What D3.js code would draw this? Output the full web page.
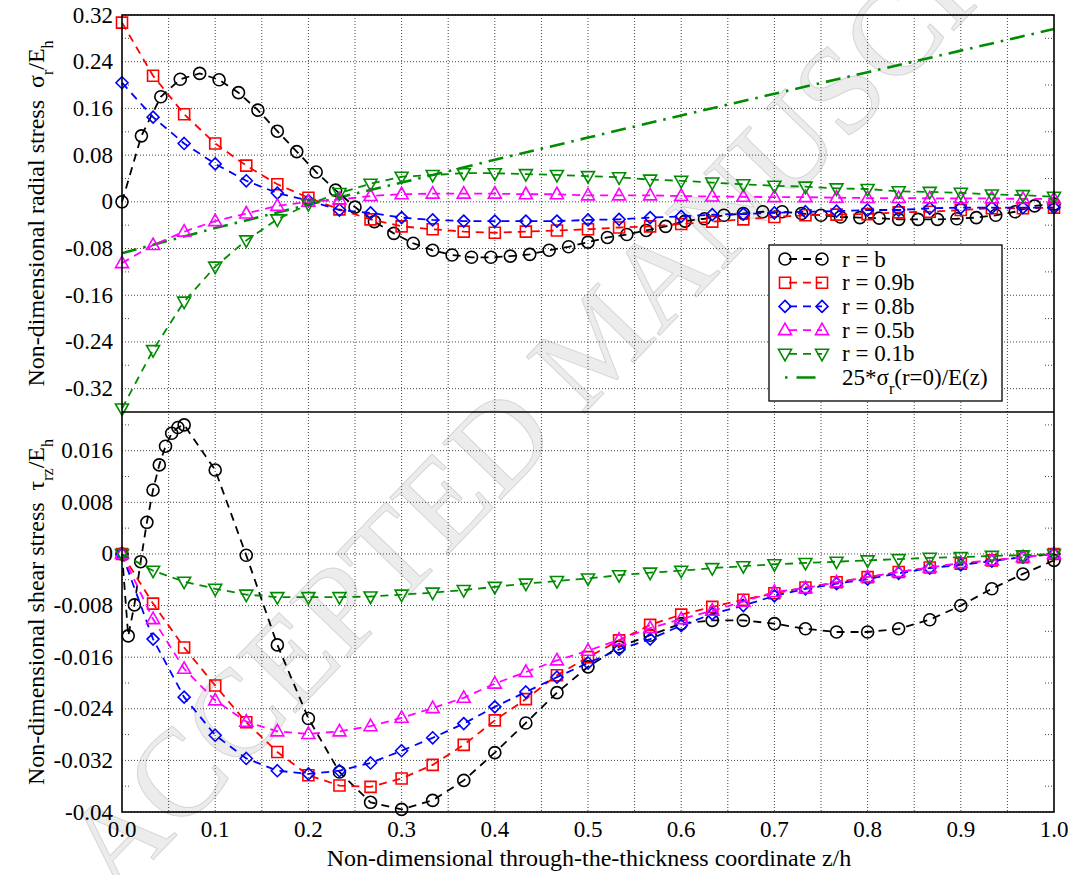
<!DOCTYPE html>
<html>
<head>
<meta charset="utf-8">
<script src="https://cdn.jsdelivr.net/npm/d3@7"></script>
<style>
  body { margin: 0; background: #fff; }
  text { font-family: "Liberation Serif", "Times New Roman", serif; fill: #000; }
</style>
</head>
<body>
<svg class="chart"></svg>
<script>
// sampling grids along z/h
var zCoarse = d3.range(31).map(function (j) { return j / 30; });
var zFine = d3.range(49).map(function (i) { return i / 48; });
var zDashDot = [0, 0.1, 0.2, 0.3, 0.4, 0.5, 0.6, 0.7, 0.8, 0.9, 1.0];
var zShearB = [0, 0.0067, 0.0133, 0.02, 0.0267, 0.0333, 0.04, 0.0467, 0.0533, 0.06, 0.0667,
    0.1, 0.1333, 0.1667, 0.2, 0.2333, 0.2667, 0.3, 0.3333, 0.3667, 0.4, 0.4333, 0.4667, 0.5,
    0.5333, 0.5667, 0.6, 0.6333, 0.6667, 0.7, 0.7333, 0.7667, 0.8, 0.8333, 0.8667, 0.9,
    0.9333, 0.9667, 1.0];

// radial stress sigma_r / E_h (top panel)
var radialB = [0.000, 0.113, 0.180, 0.210, 0.220, 0.209, 0.187, 0.157, 0.121, 0.086, 0.051,
    0.020, -0.009, -0.034, -0.054, -0.071, -0.083, -0.091, -0.095, -0.095, -0.093, -0.090,
    -0.083, -0.077, -0.069, -0.061, -0.056, -0.049, -0.042, -0.033, -0.029, -0.023, -0.020,
    -0.017, -0.017, -0.020, -0.023, -0.026, -0.027, -0.028, -0.030, -0.030, -0.030, -0.029,
    -0.027, -0.023, -0.017, -0.007, -0.004];
var radial09 = [0.307, 0.216, 0.150, 0.100, 0.062, 0.030, 0.007, -0.013, -0.030, -0.042, -0.047,
    -0.051, -0.053, -0.051, -0.049, -0.047, -0.044, -0.042, -0.038, -0.034, -0.030, -0.026,
    -0.023, -0.022, -0.021, -0.018, -0.017, -0.014, -0.011, -0.011, -0.010];
var radial08 = [0.204, 0.145, 0.100, 0.065, 0.036, 0.015, 0.002, -0.014, -0.019, -0.027, -0.031,
    -0.033, -0.033, -0.033, -0.033, -0.031, -0.030, -0.027, -0.025, -0.022, -0.021, -0.019,
    -0.017, -0.016, -0.014, -0.014, -0.011, -0.010, -0.010, -0.010, -0.010];
var radial05 = [-0.105, -0.074, -0.051, -0.033, -0.020, -0.007, 0.000, 0.004, 0.010, 0.013, 0.014,
    0.014, 0.014, 0.013, 0.013, 0.011, 0.011, 0.011, 0.010, 0.009, 0.0086, 0.008, 0.008, 0.007,
    0.0065, 0.0065, 0.006, 0.006, 0.006, 0.005, 0.005];
var radial01 = [-0.354, -0.254, -0.171, -0.111, -0.066, -0.030, -0.004, 0.015, 0.031, 0.043, 0.046,
    0.049, 0.049, 0.0475, 0.046, 0.044, 0.042, 0.038, 0.036, 0.033, 0.030, 0.0275, 0.026, 0.023,
    0.022, 0.018, 0.017, 0.0155, 0.0126, 0.0114, 0.0086];
var radialAxis = [-0.088, -0.045, -0.005, 0.033, 0.072, 0.110, 0.148, 0.185, 0.222, 0.259, 0.296];

// shear stress tau_rz / E_h (bottom panel)
var shearB = [0, -0.0127, -0.0079, -0.0012, 0.0049, 0.0099, 0.0138, 0.0167, 0.0187, 0.0196, 0.0200,
    0.0130, -0.0002, -0.0141, -0.0255, -0.0338, -0.0385, -0.0396, -0.0382, -0.0351, -0.0308,
    -0.0262, -0.0215, -0.0175, -0.0144, -0.0126, -0.0108, -0.0103, -0.0103, -0.0108, -0.0116,
    -0.0121, -0.0121, -0.0116, -0.0102, -0.0080, -0.0054, -0.0031, -0.0010];
var shear09 = [0, -0.0077, -0.0145, -0.0204, -0.0261, -0.0307, -0.0343, -0.0359, -0.0361, -0.0348,
    -0.0327, -0.0296, -0.0258, -0.0225, -0.0188, -0.0160, -0.0134, -0.0110, -0.0094, -0.0082,
    -0.0071, -0.0061, -0.0052, -0.0044, -0.0036, -0.0028, -0.0021, -0.0015, -0.0010, -0.0005, 0];
var shear08 = [0, -0.0132, -0.0222, -0.0281, -0.0317, -0.0336, -0.0341, -0.0336, -0.0324, -0.0305,
    -0.0285, -0.0263, -0.0237, -0.0214, -0.0191, -0.0169, -0.0148, -0.0132, -0.0111, -0.0093,
    -0.0080, -0.0065, -0.0054, -0.0046, -0.0039, -0.0030, -0.0022, -0.0017, -0.0011, -0.0005, 0];
var shear05 = [0, -0.0101, -0.0178, -0.0227, -0.0260, -0.0275, -0.0279, -0.0275, -0.0267, -0.0254,
    -0.0239, -0.0223, -0.0201, -0.0183, -0.0165, -0.0150, -0.0133, -0.0115, -0.0101, -0.0088,
    -0.0074, -0.0059, -0.0053, -0.0044, -0.0036, -0.0028, -0.0021, -0.0014, -0.0010, -0.0005, 0];
var shear01 = [0, -0.0026, -0.0043, -0.0054, -0.0063, -0.0067, -0.0067, -0.0067, -0.0066, -0.0063,
    -0.0060, -0.0056, -0.0051, -0.0046, -0.0042, -0.0038, -0.0033, -0.0029, -0.0026, -0.0022,
    -0.0019, -0.0016, -0.0014, -0.0012, -0.0010, -0.0008, -0.0006, -0.0005, -0.0003, -0.0002, 0];

// ticks
var xTicks = [0, 0.1, 0.2, 0.3, 0.4, 0.5, 0.6, 0.7, 0.8, 0.9, 1.0];
var xGrid = d3.range(1, 20).map(function (k) { return k / 20; });
var topTicks = [0.32, 0.24, 0.16, 0.08, 0, -0.08, -0.16, -0.24, -0.32];
var topMinor = [0.28, 0.20, 0.12, 0.04, -0.04, -0.12, -0.20, -0.28];
var botTicks = [0.016, 0.008, 0, -0.008, -0.016, -0.024, -0.032, -0.04];
var botMinor = [0.02, 0.012, 0.004, -0.004, -0.012, -0.020, -0.028, -0.036];

var legendLabels = ["r = b", "r = 0.9b", "r = 0.8b", "r = 0.5b", "r = 0.1b"];

function show() {

    'use strict';

    var W = 1076, H = 875;
    var left = 122, right = 1054, top = 15, mid = 412, bottom = 812;
    var fs = "23px", titleFs = "24px", subFs = "16px";

    var svg = d3.select(".chart").attr("width", W).attr("height", H);

    var x = d3.scaleLinear().domain([0, 1]).range([left, right]);
    var yTop = d3.scaleLinear().domain([-0.36, 0.32]).range([mid, top]);
    var yBot = d3.scaleLinear().domain([-0.04, 0.022]).range([bottom, mid]);

    var fmt = function (v) { return String(+v.toFixed(3)); };

    // watermark stamp of the manuscript
    svg.append("text")
        .attr("transform", "translate(606,350) rotate(-46)")
        .attr("text-anchor", "middle")
        .attr("dominant-baseline", "middle")
        .style("font-size", "124px")
        .style("fill", "#ececec")
        .style("stroke", "#d6d6d6")
        .style("stroke-width", 1)
        .text("ACCEPTED MANUSCRIPT");

    var grid = svg.append("g")
        .attr("stroke", "#444").attr("stroke-width", 1).attr("stroke-dasharray", "1,2");

    grid.selectAll(".vg").data(xGrid).enter().append("line")
        .attr("x1", function (d) { return x(d); }).attr("x2", function (d) { return x(d); })
        .attr("y1", top).attr("y2", bottom);

    function hgrid(ticks, minor, y) {
        grid.selectAll(null).data(ticks).enter().append("line")
            .attr("x1", left).attr("x2", right)
            .attr("y1", function (d) { return y(d); }).attr("y2", function (d) { return y(d); });
        [[left, left + 9], [right - 9, right]].forEach(function (seg) {
            grid.selectAll(null).data(minor).enter().append("line")
                .attr("x1", seg[0]).attr("x2", seg[1])
                .attr("y1", function (d) { return y(d); }).attr("y2", function (d) { return y(d); });
        });
    }
    hgrid(topTicks, topMinor, yTop);
    hgrid(botTicks, botMinor, yBot);

    // marker shapes
    function marker(type) {
        if (type === "circle") {
            var p = d3.path(); p.moveTo(6, 0); p.arc(0, 0, 6, 0, 2 * Math.PI); p.closePath();
            return p.toString();
        }
        if (type === "square") return "M-5.5,-5.5h11v11h-11Z";
        if (type === "diamond") return "M0,-6L6,0L0,6L-6,0Z";
        if (type === "up") return "M0,-7L6.5,4.5L-6.5,4.5Z";
        return "M0,7L6.5,-4.5L-6.5,-4.5Z";
    }

    var styles = [
        {color: "#000000", marker: "circle"},
        {color: "#ff0000", marker: "square"},
        {color: "#0000ff", marker: "diamond"},
        {color: "#ff00ff", marker: "up"},
        {color: "#008c00", marker: "down"}
    ];

    var topSeries = [
        {z: zFine, v: radialB}, {z: zCoarse, v: radial09}, {z: zCoarse, v: radial08},
        {z: zCoarse, v: radial05}, {z: zCoarse, v: radial01}
    ];
    var botSeries = [
        {z: zShearB, v: shearB}, {z: zCoarse, v: shear09}, {z: zCoarse, v: shear08},
        {z: zCoarse, v: shear05}, {z: zCoarse, v: shear01}
    ];

    function drawSeries(list, y) {
        list.forEach(function (s, k) {
            var st = styles[k];
            var pts = s.z.map(function (z, i) { return [z, s.v[i]]; });
            var line = d3.line().x(function (d) { return x(d[0]); }).y(function (d) { return y(d[1]); });
            svg.append("path").datum(pts)
                .attr("d", line)
                .attr("fill", "none").attr("stroke", st.color)
                .attr("stroke-width", 1.8).attr("stroke-dasharray", "8,6");
            svg.selectAll(null).data(pts).enter().append("path")
                .attr("d", marker(st.marker))
                .attr("transform", function (d) { return "translate(" + x(d[0]) + "," + y(d[1]) + ")"; })
                .attr("fill", "none").attr("stroke", st.color).attr("stroke-width", 1.6);
        });
    }

    // dash-dot curve of the axis value
    var axisPts = zDashDot.map(function (z, i) { return [z, radialAxis[i]]; });
    svg.append("path").datum(axisPts)
        .attr("d", d3.line().x(function (d) { return x(d[0]); }).y(function (d) { return yTop(d[1]); }))
        .attr("fill", "none").attr("stroke", "#008c00")
        .attr("stroke-width", 2.6).attr("stroke-dasharray", "15,7,2.5,7");

    drawSeries(topSeries, yTop);
    drawSeries(botSeries, yBot);

    // frame
    var frame = svg.append("g").attr("stroke", "#000").attr("stroke-width", 1.6).attr("fill", "none");
    frame.append("rect").attr("x", left).attr("y", top).attr("width", right - left).attr("height", bottom - top);
    frame.append("line").attr("x1", left).attr("x2", right).attr("y1", mid).attr("y2", mid);

    // tick labels
    var lab = svg.append("g").style("font-size", fs);
    lab.selectAll(null).data(xTicks).enter().append("text")
        .attr("x", function (d) { return x(d); }).attr("y", 837)
        .attr("text-anchor", "middle")
        .text(d3.format(".1f"));
    lab.selectAll(null).data(topTicks).enter().append("text")
        .attr("x", 113).attr("y", function (d) { return yTop(d) + 7.5; })
        .attr("text-anchor", "end").text(fmt);
    lab.selectAll(null).data(botTicks).enter().append("text")
        .attr("x", 113).attr("y", function (d) { return yBot(d) + 7.5; })
        .attr("text-anchor", "end").text(fmt);

    // axis titles
    svg.append("text")
        .attr("x", 589).attr("y", 866)
        .attr("text-anchor", "middle").style("font-size", titleFs)
        .text("Non-dimensional through-the-thickness coordinate z/h");

    function yTitle(cy, main, sym, sub1, sub2) {
        var t = svg.append("text")
            .attr("transform", "translate(44," + cy + ") rotate(-90)")
            .attr("text-anchor", "middle").style("font-size", titleFs)
            .style("white-space", "pre");
        t.append("tspan").text(main + "  " + sym);
        t.append("tspan").attr("baseline-shift", "sub").style("font-size", subFs).text(sub1);
        t.append("tspan").text("/E");
        t.append("tspan").attr("baseline-shift", "sub").style("font-size", subFs).text(sub2);
    }
    yTitle((top + mid) / 2, "Non-dimensional radial stress", "\u03c3", "r", "h");
    yTitle((mid + bottom) / 2, "Non-dimensional shear stress", "\u03c4", "rz", "h");

    // legend
    var lx = 769, ly = 245, lw = 233, lh = 156, rowH = 23.7, row0 = 259;
    var leg = svg.append("g");
    leg.append("rect").attr("x", lx).attr("y", ly).attr("width", lw).attr("height", lh)
        .attr("fill", "#fff").attr("stroke", "#000").attr("stroke-width", 1.3);

    legendLabels.forEach(function (name, k) {
        var st = styles[k], yy = row0 + k * rowH;
        leg.append("line").attr("x1", 785).attr("x2", 822).attr("y1", yy).attr("y2", yy)
            .attr("stroke", st.color).attr("stroke-width", 1.8).attr("stroke-dasharray", "8,6")
            .attr("stroke-dashoffset", -4);
        [785, 822].forEach(function (mx) {
            leg.append("path").attr("d", marker(st.marker))
                .attr("transform", "translate(" + mx + "," + yy + ")")
                .attr("fill", "none").attr("stroke", st.color).attr("stroke-width", 1.6);
        });
        leg.append("text").attr("x", 842).attr("y", yy + 7.5).style("font-size", fs).text(name);
    });

    var yd = row0 + 5 * rowH;
    leg.append("line").attr("x1", 785).attr("x2", 816).attr("y1", yd).attr("y2", yd)
        .attr("stroke", "#008c00").attr("stroke-width", 2.6).attr("stroke-dasharray", "2.5,9,19,50");
    var lt = leg.append("text").attr("x", 842).attr("y", yd + 7.5).style("font-size", fs);
    lt.append("tspan").text("25*\u03c3");
    lt.append("tspan").attr("baseline-shift", "sub").style("font-size", subFs).text("r");
    lt.append("tspan").text("(r=0)/E(z)");
}

show();
</script>
</body>
</html>
